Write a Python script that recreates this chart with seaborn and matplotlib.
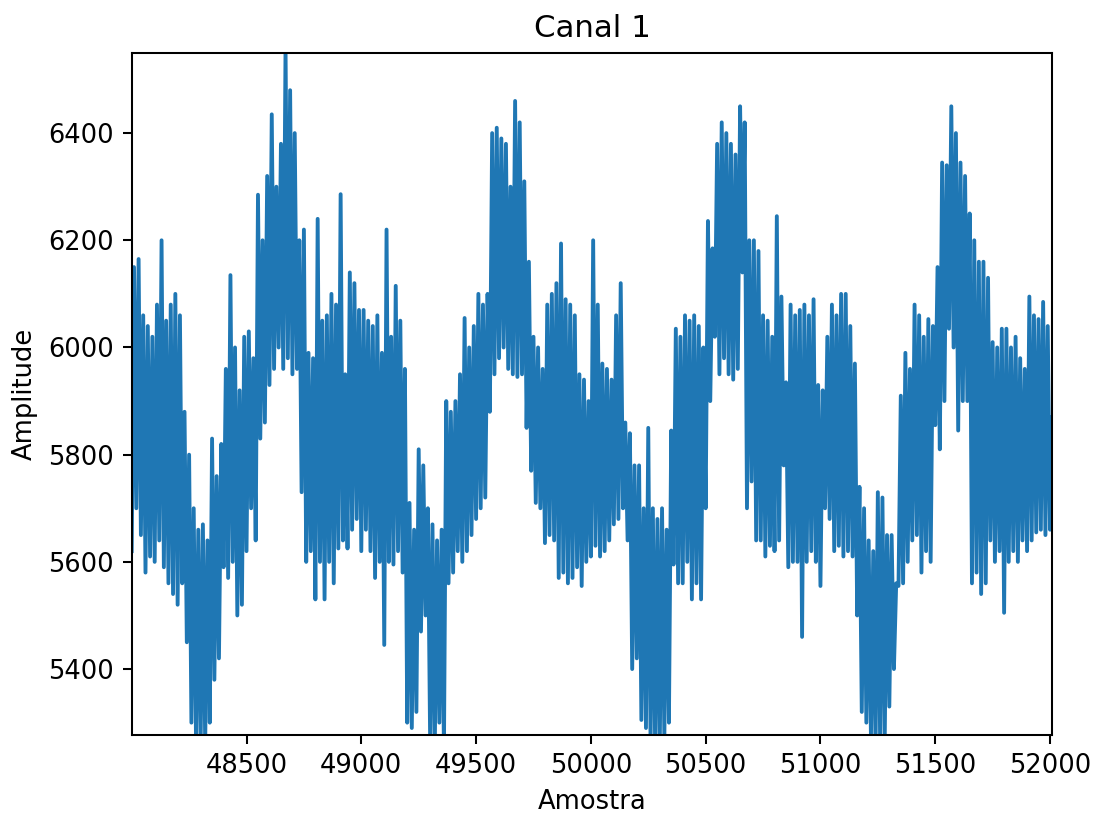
import numpy as np
import seaborn as sns
import matplotlib
matplotlib.use("Agg")
import matplotlib.pyplot as plt

# amplitude, one value every 10 samples (48000 .. 52010)
amplitude = [
    5620, 6150, 5700, 6165, 5650, 6060, 5580, 6040, 5610, 6020,
    5600, 6080, 5640, 6200, 5590, 6050, 5560, 6080, 5540, 6100,
    5520, 6060, 5560, 5880, 5450, 5800, 5300, 5700, 5270, 5660,
    5250, 5670, 5260, 5640, 5300, 5830, 5380, 5760, 5420, 5820,
    5590, 5960, 5570, 6135, 5600, 6000, 5500, 5920, 5520, 6020,
    5620, 6030, 5700, 5980, 5640, 6285, 5830, 6200, 5860, 6320,
    5930, 6435, 5960, 6300, 6000, 6380, 5960, 6560, 5980, 6480,
    5950, 6400, 5960, 6200, 5730, 6220, 5600, 5990, 5620, 5980,
    5530, 6240, 5600, 6050, 5530, 6060, 5600, 6100, 5560, 6080,
    5625, 6286, 5640, 5950, 5625, 6140, 5660, 6120, 5680, 6070,
    5620, 6070, 5660, 6050, 5620, 6040, 5570, 6060, 5600, 5990,
    5445, 6220, 5600, 6020, 5595, 6115, 5620, 6050, 5580, 5960,
    5300, 5710, 5290, 5660, 5320, 5810, 5470, 5780, 5500, 5700,
    5260, 5670, 5250, 5640, 5300, 5660, 5250, 5900, 5560, 5880,
    5580, 5900, 5620, 5950, 5600, 6055, 5620, 6000, 5650, 6040,
    5680, 6100, 5700, 6080, 5720, 6100, 5880, 6400, 5950, 6410,
    5980, 6390, 6000, 6380, 5960, 6300, 5950, 6460, 5945, 6420,
    5950, 6310, 5850, 6160, 5770, 6020, 5710, 6000, 5700, 5960,
    5635, 6080, 5650, 6100, 5640, 6120, 5570, 6194, 5580, 6090,
    5560, 6080, 5570, 6060, 5590, 5950, 5555, 5940, 5600, 5900,
    5610, 6200, 5630, 6080, 5610, 5970, 5620, 5960, 5640, 5940,
    5670, 6060, 5680, 6120, 5700, 5860, 5640, 5840, 5400, 5780,
    5420, 5780, 5305, 5700, 5290, 5850, 5260, 5700, 5250, 5680,
    5250, 5700, 5270, 5660, 5300, 5845, 5595, 6035, 5560, 6020,
    5560, 6060, 5600, 6050, 5530, 6060, 5560, 6040, 5530, 6000,
    5700, 6236, 5900, 6185, 6020, 6380, 5950, 6420, 5980, 6400,
    5950, 6380, 5940, 6360, 5960, 6450, 6140, 6420, 5700, 6200,
    5750, 6200, 5640, 6180, 5640, 6060, 5610, 6050, 5630, 6020,
    5620, 6245, 5640, 6095, 5780, 5935, 5590, 6080, 5600, 6060,
    5600, 6070, 5460, 6080, 5600, 6060, 5620, 6090, 5600, 5930,
    5555, 5920, 5700, 6020, 5680, 6080, 5620, 6060, 5630, 6100,
    5610, 6100, 5620, 6040, 5610, 5970, 5500, 5740, 5320, 5700,
    5300, 5640, 5270, 5620, 5250, 5730, 5260, 5720, 5270, 5650,
    5330, 5650, 5400, 5560, 5555, 5910, 5560, 5990, 5600, 5960,
    5640, 6080, 5650, 6060, 5580, 6020, 5620, 6053, 5600, 6040,
    5855, 6150, 5810, 6345, 5900, 6340, 6035, 6450, 6000, 6400,
    5845, 6345, 5900, 6320, 5900, 6250, 5560, 6200, 5580, 6160,
    5540, 6160, 5560, 6130, 5640, 6010, 5600, 6000, 5620, 6035,
    5505, 6035, 5600, 6000, 5620, 6020, 5600, 5980, 5640, 5960,
    5620, 6095, 5640, 6060, 5655, 6053, 5660, 6085, 5650, 6040,
    5660, 5870,
]
amostra = np.arange(48000, 48000 + 10 * len(amplitude), 10)

fig = plt.figure(figsize=(1094 / 185, 816 / 185), dpi=185)
fig.subplots_adjust(left=0.1204, right=0.9619, bottom=0.0993, top=0.9354)
ax = fig.add_subplot(111)

sns.lineplot(x=amostra, y=amplitude, ax=ax, color="#1f77b4", linewidth=1.5)

ax.set_xlim(48000, 52010)
ax.set_ylim(5277, 6550)
ax.set_xticks([48500, 49000, 49500, 50000, 50500, 51000, 51500, 52000])
ax.set_title("Canal 1")
ax.set_xlabel("Amostra")
ax.set_ylabel("Amplitude")

fig.savefig("out.png", dpi=185)
